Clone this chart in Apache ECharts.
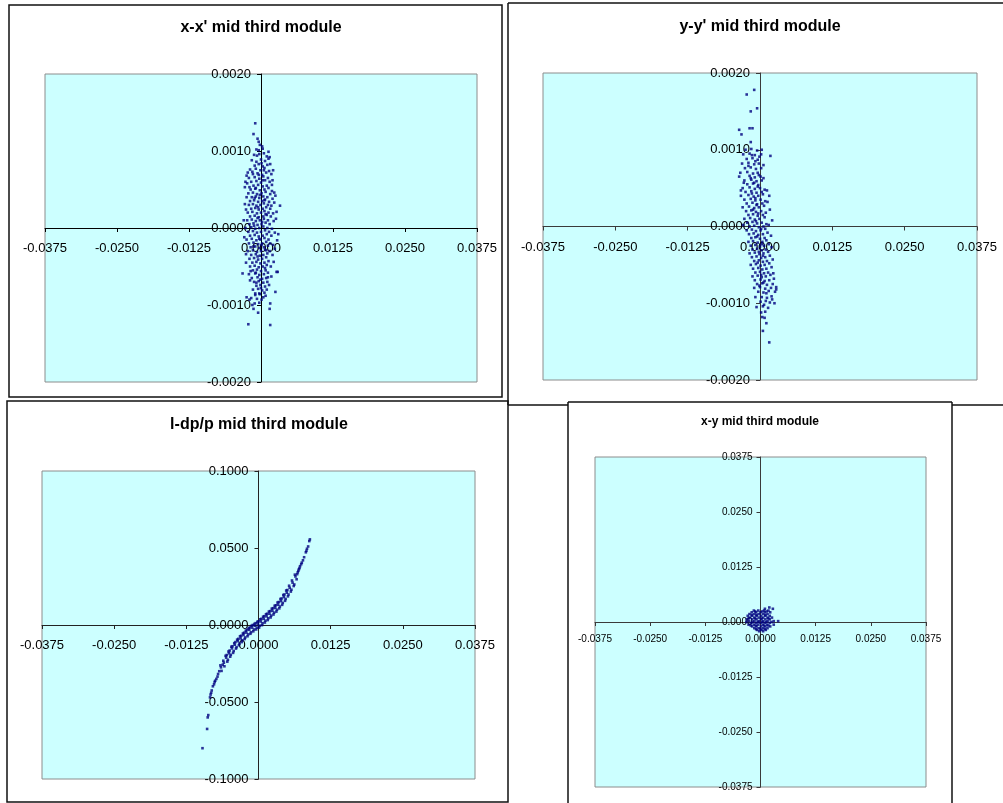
<!DOCTYPE html>
<html>
<head>
<meta charset="utf-8">
<script src="https://cdn.jsdelivr.net/npm/echarts@6/dist/echarts.min.js"></script>
<style>
html,body{margin:0;padding:0;background:#fff;}
#c{width:1003px;height:803px;}
</style>
</head>
<body>
<div id="c"></div>
<script>
// ---- titles ----
const titles = ["x-x' mid third module", "y-y' mid third module", "l-dp/p mid third module", "x-y mid third module"];

// ---- axis ranges / ticks ----
const posRange = [-0.0375, 0.0375, 0.0125];
const angRange = [-0.002, 0.002, 0.001];
const dppRange = [-0.1, 0.1, 0.05];

// ---- x-x' points [x, x'] ----
const xxPoints = [
[-0.0010,0.00136],[-0.0013,0.00122],[-0.0006,0.00116],[-0.0004,0.00112],[-0.0002,0.00108],[0.0002,0.00106],[0.0013,0.00099],[-0.0008,0.00102],
[0.0033,0.00029],[-0.0022,-0.00125],[0.0016,-0.00126],[0.0025,-0.00083],[0.0029,-0.00057],[0.0027,-0.00057],[-0.0032,-0.00059],[-0.0030,0.00010],
[-0.0015,-0.00100],[-0.0013,-0.00105],[-0.0005,-0.00110],[0.0016,-0.00098],[0.0015,-0.00105],[-0.0025,-0.00090],[-0.0020,-0.00093],[0.0004,-0.00090],
[-0.0003,-0.00085],[0.0014,-0.00074],[0.0025,0.00042],[0.0023,0.00046],[0.0020,0.00062],[0.0021,0.00075],[0.0016,0.00083],[0.0015,0.00092],
[-0.0027,0.00060],[-0.0028,0.00053],[-0.0025,0.00068],[-0.0023,0.00072],
[-0.0012,0.00095],[-0.0003,0.00096],[0.0005,0.00097],[0.0010,0.00093],
[-0.0016,0.00088],[-0.0008,0.00086],[0.0000,0.00089],[0.0007,0.00087],[0.0013,0.00090],
[-0.0011,0.00081],[-0.0004,0.00083],[0.0003,0.00080],[0.0011,0.00082],
[-0.0019,0.00076],[-0.0009,0.00077],[-0.0001,0.00075],[0.0006,0.00078],[0.0014,0.00074],
[-0.0014,0.00070],[-0.0006,0.00071],[0.0002,0.00069],[0.0009,0.00072],[0.0018,0.00070],
[-0.0021,0.00065],[-0.0011,0.00066],[-0.0003,0.00064],[0.0004,0.00067],[0.0012,0.00065],
[-0.0017,0.00060],[-0.0008,0.00061],[0.0000,0.00059],[0.0007,0.00062],[0.0015,0.00060],[-0.0024,0.00058],
[-0.0013,0.00055],[-0.0005,0.00056],[0.0003,0.00054],[0.0010,0.00055],[-0.0020,0.00053],
[-0.0018,0.00050],[-0.0010,0.00051],[-0.0002,0.00049],[0.0006,0.00050],[0.0013,0.00052],[0.0019,0.00048],
[-0.0022,0.00045],[-0.0014,0.00046],[-0.0007,0.00044],[0.0001,0.00045],[0.0008,0.00047],[0.0016,0.00044],
[-0.0016,0.00040],[-0.0009,0.00041],[-0.0003,0.00039],[0.0004,0.00041],[0.0011,0.00040],[0.0020,0.00038],[-0.0025,0.00040],
[-0.0019,0.00035],[-0.0012,0.00036],[-0.0005,0.00034],[0.0002,0.00035],[0.0007,0.00037],[0.0014,0.00034],
[-0.0021,0.00030],[-0.0014,0.00031],[-0.0008,0.00029],[-0.0001,0.00030],[0.0005,0.00032],[0.0012,0.00030],[0.0018,0.00029],
[-0.0017,0.00025],[-0.0010,0.00026],[-0.0004,0.00024],[0.0003,0.00025],[0.0009,0.00027],[0.0016,0.00025],[-0.0026,0.00024],
[-0.0023,0.00020],[-0.0015,0.00021],[-0.0007,0.00019],[0.0000,0.00020],[0.0006,0.00022],[0.0013,0.00020],[0.0021,0.00019],
[-0.0019,0.00015],[-0.0011,0.00016],[-0.0004,0.00014],[0.0004,0.00015],[0.0010,0.00017],[0.0017,0.00015],
[-0.0024,0.00010],[-0.0016,0.00011],[-0.0009,0.00009],[-0.0002,0.00010],[0.0005,0.00012],[0.0012,0.00010],[0.0022,0.00009],
[-0.0020,0.00005],[-0.0013,0.00006],[-0.0006,0.00004],[0.0001,0.00005],[0.0008,0.00007],[0.0015,0.00005],
[-0.0027,0.00000],[-0.0017,0.00001],[-0.0010,-0.00001],[-0.0003,0.00000],[0.0004,0.00002],[0.0011,0.00000],[0.0019,-0.00001],
[-0.0022,-0.00005],[-0.0014,-0.00004],[-0.0007,-0.00006],[0.0000,-0.00005],[0.0007,-0.00003],[0.0014,-0.00005],[0.0024,-0.00006],
[-0.0019,-0.00010],[-0.0011,-0.00009],[-0.0004,-0.00011],[0.0003,-0.00010],[0.0010,-0.00008],[0.0018,-0.00010],
[-0.0025,-0.00015],[-0.0016,-0.00014],[-0.0008,-0.00016],[-0.0001,-0.00015],[0.0006,-0.00013],[0.0013,-0.00015],
[-0.0021,-0.00020],[-0.0013,-0.00019],[-0.0005,-0.00021],[0.0002,-0.00020],[0.0009,-0.00018],[0.0016,-0.00020],[0.0021,-0.00022],
[-0.0018,-0.00025],[-0.0010,-0.00024],[-0.0003,-0.00026],[0.0005,-0.00025],[0.0012,-0.00023],
[-0.0023,-0.00030],[-0.0014,-0.00029],[-0.0007,-0.00031],[0.0000,-0.00030],[0.0007,-0.00028],[0.0015,-0.00030],
[-0.0017,-0.00035],[-0.0009,-0.00034],[-0.0002,-0.00036],[0.0004,-0.00035],[0.0011,-0.00033],[0.0020,-0.00035],
[-0.0020,-0.00040],[-0.0012,-0.00039],[-0.0005,-0.00041],[0.0002,-0.00040],[0.0009,-0.00038],
[-0.0015,-0.00045],[-0.0008,-0.00044],[-0.0001,-0.00046],[0.0006,-0.00045],[0.0013,-0.00043],[-0.0026,-0.00045],
[-0.0019,-0.00050],[-0.0011,-0.00049],[-0.0004,-0.00051],[0.0003,-0.00050],[0.0010,-0.00048],[0.0017,-0.00050],
[-0.0014,-0.00055],[-0.0007,-0.00054],[0.0000,-0.00056],[0.0008,-0.00055],
[-0.0021,-0.00060],[-0.0010,-0.00059],[-0.0003,-0.00061],[0.0005,-0.00060],[0.0012,-0.00058],
[-0.0016,-0.00065],[-0.0006,-0.00064],[0.0002,-0.00066],[0.0009,-0.00065],
[-0.0012,-0.00070],[-0.0004,-0.00069],[0.0004,-0.00071],[0.0011,-0.00070],[-0.0019,-0.00068],
[-0.0008,-0.00075],[-0.0001,-0.00074],[0.0007,-0.00076],
[-0.0014,-0.00080],[-0.0005,-0.00079],[0.0002,-0.00081],[0.0010,-0.00080],
[-0.0010,-0.00085],[-0.0002,-0.00086],[0.0006,-0.00084],
[-0.0007,-0.00092],[0.0001,-0.00093],[-0.0017,-0.00091],
[-0.0011,-0.00098],[-0.0003,-0.00097],
[0.0026,0.00012],[0.0030,-0.00008],[0.0027,0.00021],[0.0024,-0.00027],[0.0028,-0.00016],[0.0023,0.00033],[-0.0029,-0.00012],[-0.0026,-0.00034],
[-0.0028,0.00031],[0.0019,0.00056],[0.0022,-0.00044],[0.0018,-0.00063],[-0.0005,0.00027],[-0.0012,0.00003],[0.0001,-0.00022],[-0.0006,-0.00037],
[0.0008,0.00018],[-0.0002,0.00043],[-0.0009,0.00052],[0.0003,0.00062],[-0.0015,0.00073],[0.0001,0.00084],[-0.0007,0.00094],[-0.0001,-0.00067],
[-0.0009,-0.00058],[0.0007,-0.00052],[-0.0003,-0.00014],[0.0009,-0.00029],[-0.0013,-0.00024],[0.0002,0.00008],[-0.0006,0.00013],[0.0006,0.00036],
[-0.0011,0.00039],[-0.0004,0.00069],[0.0005,0.00075],[-0.0018,-0.00056],[0.0012,-0.00064],[-0.0008,-0.00071],[0.0000,-0.00078],[-0.0004,0.00101],
[0.0003,0.00103],[-0.0010,-0.00087],[0.0008,-0.00088]
];

// ---- y-y' points [y, y'] ----
const yyPoints = [
[-0.0010,0.00178],[-0.0023,0.00172],[-0.0005,0.00154],[-0.0016,0.00150],[-0.0018,0.00128],[-0.0013,0.00128],[-0.0036,0.00126],[-0.0032,0.00120],
[-0.0016,0.00110],[0.0016,-0.00151],[0.0005,-0.00136],[0.0011,-0.00126],[0.0028,-0.00079],[-0.0008,-0.00092],[0.0025,-0.00100],
[-0.0025,0.00100],[-0.0015,0.00101],[-0.0005,0.00099],[0.0003,0.00100],
[-0.0029,0.00094],[-0.0018,0.00095],[-0.0009,0.00093],[0.0002,0.00094],[0.0018,0.00092],
[-0.0023,0.00088],[-0.0013,0.00089],[-0.0004,0.00087],
[-0.0031,0.00082],[-0.0020,0.00083],[-0.0010,0.00081],[-0.0002,0.00082],[0.0006,0.00080],
[-0.0026,0.00076],[-0.0016,0.00077],[-0.0007,0.00075],[0.0002,0.00076],
[-0.0034,0.00070],[-0.0022,0.00071],[-0.0012,0.00069],[-0.0004,0.00070],
[-0.0036,0.00065],[-0.0018,0.00066],[-0.0009,0.00064],[0.0001,0.00065],[0.0006,0.00063],
[-0.0027,0.00060],[-0.0015,0.00061],[-0.0006,0.00059],[0.0003,0.00060],
[-0.0022,0.00055],[-0.0012,0.00056],[-0.0003,0.00054],
[-0.0030,0.00050],[-0.0018,0.00051],[-0.0009,0.00049],[0.0000,0.00050],[0.0008,0.00048],
[-0.0025,0.00045],[-0.0015,0.00046],[-0.0006,0.00044],[0.0003,0.00045],
[-0.0033,0.00040],[-0.0020,0.00041],[-0.0011,0.00039],[-0.0003,0.00040],[0.0005,0.00042],
[-0.0027,0.00035],[-0.0016,0.00036],[-0.0008,0.00034],[0.0001,0.00035],[0.0009,0.00033],
[-0.0023,0.00030],[-0.0013,0.00031],[-0.0005,0.00029],[0.0004,0.00030],
[-0.0030,0.00025],[-0.0019,0.00026],[-0.0010,0.00024],[-0.0002,0.00025],[0.0007,0.00027],
[-0.0024,0.00020],[-0.0015,0.00021],[-0.0007,0.00019],[0.0002,0.00020],[0.0010,0.00018],
[-0.0020,0.00015],[-0.0012,0.00016],[-0.0004,0.00014],[0.0005,0.00015],
[-0.0027,0.00010],[-0.0017,0.00011],[-0.0009,0.00009],[-0.0001,0.00010],[0.0008,0.00012],
[-0.0022,0.00005],[-0.0013,0.00006],[-0.0005,0.00004],[0.0003,0.00005],[0.0011,0.00003],
[-0.0018,0.00000],[-0.0010,0.00001],[-0.0002,-0.00001],[0.0006,0.00000],[-0.0029,0.00002],
[-0.0023,-0.00005],[-0.0014,-0.00004],[-0.0007,-0.00006],[0.0001,-0.00005],[0.0009,-0.00003],
[-0.0019,-0.00010],[-0.0011,-0.00009],[-0.0003,-0.00011],[0.0005,-0.00010],[0.0013,-0.00008],
[-0.0015,-0.00015],[-0.0008,-0.00014],[0.0000,-0.00016],[0.0008,-0.00015],
[-0.0020,-0.00020],[-0.0012,-0.00019],[-0.0004,-0.00021],[0.0004,-0.00020],[0.0011,-0.00018],
[-0.0016,-0.00025],[-0.0008,-0.00024],[0.0000,-0.00026],[0.0007,-0.00025],[0.0015,-0.00023],
[-0.0013,-0.00030],[-0.0005,-0.00029],[0.0003,-0.00031],[0.0010,-0.00030],
[-0.0018,-0.00035],[-0.0009,-0.00034],[-0.0001,-0.00036],[0.0006,-0.00035],[0.0014,-0.00033],
[-0.0014,-0.00040],[-0.0006,-0.00039],[0.0002,-0.00041],[0.0009,-0.00040],[0.0017,-0.00038],
[-0.0010,-0.00045],[-0.0002,-0.00044],[0.0005,-0.00046],[0.0012,-0.00045],
[-0.0016,-0.00050],[-0.0007,-0.00049],[0.0001,-0.00051],[0.0008,-0.00050],[0.0016,-0.00048],
[-0.0012,-0.00055],[-0.0003,-0.00054],[0.0004,-0.00056],[0.0011,-0.00055],[0.0020,-0.00053],
[-0.0008,-0.00060],[0.0000,-0.00059],[0.0007,-0.00061],[0.0014,-0.00060],
[-0.0013,-0.00065],[-0.0004,-0.00064],[0.0003,-0.00066],[0.0010,-0.00065],[0.0018,-0.00063],
[-0.0009,-0.00070],[0.0001,-0.00069],[0.0008,-0.00071],[0.0016,-0.00070],
[-0.0005,-0.00075],[0.0004,-0.00074],[0.0012,-0.00076],[0.0022,-0.00075],
[-0.0010,-0.00080],[0.0000,-0.00079],[0.0009,-0.00081],[0.0019,-0.00080],[0.0028,-0.00082],
[-0.0003,-0.00085],[0.0006,-0.00086],[0.0015,-0.00084],
[0.0003,-0.00092],[0.0012,-0.00093],[0.0020,-0.00091],
[0.0001,-0.00098],[0.0010,-0.00097],[0.0017,-0.00099],
[-0.0006,-0.00105],[0.0005,-0.00104],[0.0014,-0.00106],
[0.0002,-0.00112],[0.0009,-0.00111],
[0.0004,-0.00118],[0.0008,-0.00119],
[0.0015,0.00002],[0.0019,-0.00012],[0.0021,0.00008],[0.0017,0.00022],[0.0013,0.00032],[0.0016,0.00040],[0.0012,0.00047],[0.0020,-0.00027],
[0.0022,-0.00043],[0.0023,-0.00061],[0.0024,-0.00068],[0.0026,-0.00085],[0.0021,-0.00095],
[-0.0006,0.00028],[-0.0012,0.00022],[-0.0003,0.00017],[-0.0008,0.00037],[-0.0014,0.00043],[-0.0004,0.00052],[-0.0010,0.00057],[-0.0016,0.00063],
[-0.0002,0.00067],[-0.0007,0.00007],[0.0002,-0.00003],[-0.0005,-0.00013],[0.0003,-0.00023],[-0.0002,-0.00033],[0.0005,-0.00038],[-0.0004,-0.00047],
[0.0002,-0.00063],[0.0006,-0.00073],[-0.0001,-0.00077],[0.0011,-0.00087],[0.0007,-0.00102],[-0.0020,0.00079],[-0.0008,0.00085],[-0.0028,0.00057],
[-0.0033,0.00047],[-0.0014,0.00093],[-0.0001,0.00091]
];

// ---- l-dp/p points [l, dp/p] ----
const ldpPoints = [
[-0.0097,-0.0800],[-0.0089,-0.0675],[-0.0088,-0.0600],[-0.0087,-0.0585],[-0.0084,-0.0470],[-0.0083,-0.0452],[-0.0082,-0.0440],[-0.0081,-0.0425],
[-0.0079,-0.0398],[-0.0077,-0.0385],[-0.0076,-0.0370],[-0.0075,-0.0362],[-0.0073,-0.0350],[-0.0071,-0.0335],[-0.0070,-0.0318],[-0.0068,-0.0300],
[-0.0066,-0.0262],[-0.0064,-0.0298],[-0.0065,-0.0275],
[-0.0061,-0.0232],[-0.0059,-0.0268],[-0.0060,-0.0245],[-0.0062,-0.0258],
[-0.0057,-0.0200],[-0.0054,-0.0238],[-0.0056,-0.0212],[-0.0053,-0.0226],[-0.0055,-0.0195],
[-0.0052,-0.0172],[-0.0049,-0.0206],[-0.0051,-0.0184],[-0.0048,-0.0194],[-0.0050,-0.0166],
[-0.0047,-0.0141],[-0.0044,-0.0181],[-0.0046,-0.0152],[-0.0043,-0.0169],[-0.0045,-0.0138],
[-0.0042,-0.0118],[-0.0039,-0.0153],[-0.0041,-0.0128],[-0.0038,-0.0144],[-0.0040,-0.0111],
[-0.0037,-0.0095],[-0.0034,-0.0131],[-0.0036,-0.0105],[-0.0033,-0.0121],[-0.0035,-0.0090],
[-0.0032,-0.0073],[-0.0029,-0.0111],[-0.0031,-0.0087],[-0.0028,-0.0099],[-0.0030,-0.0070],
[-0.0027,-0.0055],[-0.0024,-0.0091],[-0.0026,-0.0065],[-0.0023,-0.0081],[-0.0025,-0.0050],
[-0.0022,-0.0037],[-0.0019,-0.0073],[-0.0021,-0.0049],[-0.0018,-0.0061],[-0.0020,-0.0030],
[-0.0017,-0.0021],[-0.0014,-0.0057],[-0.0016,-0.0031],[-0.0013,-0.0047],[-0.0015,-0.0016],
[-0.0012,-0.0005],[-0.0009,-0.0041],[-0.0011,-0.0017],[-0.0008,-0.0029],[-0.0010,0.0000],
[-0.0007,0.0007],[-0.0004,-0.0029],[-0.0006,-0.0005],[-0.0003,-0.0017],[-0.0005,0.0012],
[-0.0002,0.0021],[0.0001,-0.0017],[-0.0001,0.0007],[0.0002,-0.0005],[0.0000,0.0024],
[0.0003,0.0037],[0.0006,-0.0001],[0.0004,0.0023],[0.0007,0.0011],[0.0005,0.0040],
[0.0008,0.0054],[0.0011,0.0016],[0.0009,0.0040],[0.0012,0.0028],[0.0010,0.0057],
[0.0013,0.0070],[0.0016,0.0032],[0.0014,0.0056],[0.0017,0.0044],[0.0015,0.0073],
[0.0018,0.0087],[0.0021,0.0049],[0.0019,0.0073],[0.0022,0.0061],[0.0020,0.0090],
[0.0023,0.0106],[0.0026,0.0068],[0.0024,0.0092],[0.0027,0.0080],[0.0025,0.0109],
[0.0028,0.0125],[0.0031,0.0087],[0.0029,0.0111],[0.0032,0.0099],[0.0030,0.0128],
[0.0033,0.0146],[0.0036,0.0108],[0.0034,0.0132],[0.0037,0.0120],[0.0035,0.0149],
[0.0038,0.0169],[0.0041,0.0131],[0.0039,0.0155],[0.0042,0.0143],[0.0040,0.0172],
[0.0043,0.0195],[0.0046,0.0157],[0.0044,0.0181],[0.0047,0.0169],[0.0045,0.0198],
[0.0048,0.0224],[0.0051,0.0186],[0.0049,0.0210],[0.0052,0.0198],[0.0050,0.0227],
[0.0053,0.0255],[0.0056,0.0217],[0.0054,0.0241],[0.0057,0.0229],
[0.0058,0.0289],[0.0061,0.0253],[0.0059,0.0275],[0.0062,0.0263],
[0.0063,0.0327],[0.0066,0.0297],[0.0064,0.0315],
[0.0067,0.0330],[0.0068,0.0342],[0.0069,0.0352],[0.0070,0.0362],[0.0071,0.0370],[0.0072,0.0382],[0.0074,0.0395],[0.0075,0.0405],
[0.0077,0.0420],[0.0079,0.0440],[0.0082,0.0472],[0.0083,0.0482],[0.0084,0.0495],[0.0086,0.0510],[0.0088,0.0545],[0.0089,0.0556]
];

// ---- x-y points [x, y] ----
const xyPoints = [
[0.0020,0.0033],[0.0028,0.0030],[0.0010,0.0030],
[-0.0015,0.0026],[-0.0005,0.0026],[0.0008,0.0026],[0.0018,0.0026],
[-0.0012,0.0024],[0.0004,0.0024],[0.0014,0.0024],
[-0.0020,0.0022],[-0.0010,0.0022],[0.0000,0.0022],[0.0010,0.0022],[0.0022,0.0022],
[-0.0025,0.0018],[-0.0014,0.0018],[-0.0004,0.0018],[0.0006,0.0018],[0.0016,0.0018],
[-0.0020,0.0016],[-0.0009,0.0016],[0.0011,0.0016],
[-0.0029,0.0014],[-0.0019,0.0014],[-0.0009,0.0014],[0.0001,0.0014],[0.0011,0.0014],[0.0021,0.0014],
[-0.0024,0.0010],[-0.0014,0.0010],[-0.0004,0.0010],[0.0006,0.0010],[0.0016,0.0010],[0.0026,0.0010],
[-0.0027,0.0008],[-0.0012,0.0008],[0.0003,0.0008],[0.0018,0.0008],
[-0.0031,0.0006],[-0.0019,0.0006],[-0.0009,0.0006],[0.0001,0.0006],[0.0011,0.0006],[0.0021,0.0006],
[-0.0026,0.0002],[-0.0014,0.0002],[-0.0004,0.0002],[0.0006,0.0002],[0.0016,0.0002],[0.0030,0.0002],[0.0040,0.0002],
[-0.0032,0.0000],[-0.0018,0.0000],[-0.0006,0.0000],[0.0004,0.0000],[0.0013,0.0000],[0.0025,0.0000],
[-0.0021,-0.0002],[-0.0010,-0.0002],[0.0000,-0.0002],[0.0010,-0.0002],[0.0021,-0.0002],
[-0.0027,-0.0006],[-0.0015,-0.0006],[-0.0005,-0.0006],[0.0005,-0.0006],[0.0015,-0.0006],[0.0030,-0.0006],
[-0.0022,-0.0008],[-0.0011,-0.0008],[0.0008,-0.0008],[0.0018,-0.0008],
[-0.0019,-0.0010],[-0.0009,-0.0010],[0.0001,-0.0010],[0.0011,-0.0010],[0.0022,-0.0010],
[-0.0014,-0.0014],[-0.0004,-0.0014],[0.0006,-0.0014],[0.0016,-0.0014],
[-0.0010,-0.0016],[0.0000,-0.0016],[0.0010,-0.0016],
[-0.0008,-0.0018],[0.0002,-0.0018],[0.0012,-0.0018],
[-0.0003,-0.0021],[0.0006,-0.0021]
];

const FONT = '"Liberation Sans", Arial, sans-serif';
const fmt = v => (Math.abs(v) < 1e-10 ? 0 : v).toFixed(4);

const grids = [
  { left: 45, top: 74, width: 432, height: 308 },
  { left: 543, top: 73, width: 434, height: 307 },
  { left: 42, top: 471, width: 433, height: 308 },
  { left: 595, top: 457, width: 331, height: 330 }
];

// crossing axes placed at the centre of each plot (value 0), via offset
function axis(gi, r, fs, lineColor, margin, dim) {
  const g = grids[gi];
  const off = dim === 'x' ? -g.height / 2 : -g.width / 2;
  return {
    type: 'value', gridIndex: gi, min: r[0], max: r[1], interval: r[2],
    position: dim === 'x' ? 'bottom' : 'left', offset: off,
    axisLine: { show: true, onZero: false, lineStyle: { color: lineColor, width: 1 } },
    axisTick: { show: true, inside: false, length: 4, lineStyle: { color: lineColor } },
    axisLabel: { show: true, fontSize: fs, fontFamily: FONT, color: '#000', margin: margin,
                 formatter: fmt, showMinLabel: true, showMaxLabel: true },
    splitLine: { show: false }
  };
}

const gridOpts = grids.map(g => Object.assign({}, g, {
  show: true, backgroundColor: '#CCFFFF', borderColor: '#8C8C8C', borderWidth: 1,
  containLabel: false, outerBoundsMode: 'none'
}));

const xAxes = [
  axis(0, posRange, 13, '#000', 14, 'x'),
  axis(1, posRange, 13, '#3a3a3a', 14, 'x'),
  axis(2, posRange, 13, '#222', 14, 'x'),
  axis(3, posRange, 10, '#3a3a3a', 12, 'x')
];
const yAxes = [
  axis(0, angRange, 13, '#000', 10, 'y'),
  axis(1, angRange, 13, '#3a3a3a', 10, 'y'),
  axis(2, dppRange, 13, '#222', 10, 'y'),
  axis(3, posRange, 10, '#3a3a3a', 8, 'y')
];

const sets = [xxPoints, yyPoints, ldpPoints, xyPoints];
const series = sets.map((d, i) => ({
  type: 'scatter', xAxisIndex: i, yAxisIndex: i, data: d,
  symbol: 'rect', symbolSize: 2.6, itemStyle: { color: '#000080' },
  silent: true, z: 3
}));

function line(x1, y1, x2, y2) {
  return { type: 'line', shape: { x1, y1, x2, y2 }, style: { stroke: '#111', lineWidth: 1.5 }, silent: true, z: 10 };
}
function text(x, y, t, size) {
  return { type: 'text', x, y, z: 10, silent: true,
    style: { text: t, fill: '#000', font: 'bold ' + size + 'px ' + FONT, align: 'center', verticalAlign: 'middle' } };
}

const graphic = [
  { type: 'rect', shape: { x: 9, y: 5, width: 493, height: 392 }, style: { fill: null, stroke: '#111', lineWidth: 1.5 }, silent: true, z: 10 },
  line(508, 3, 1003, 3), line(508, 3, 508, 405), line(508, 405, 568, 405), line(952, 405, 1003, 405),
  { type: 'rect', shape: { x: 7, y: 401, width: 501, height: 401 }, style: { fill: null, stroke: '#111', lineWidth: 1.5 }, silent: true, z: 10 },
  line(568, 402, 952, 402), line(568, 402, 568, 803), line(952, 402, 952, 803),
  text(261, 28, titles[0], 16),
  text(760, 27, titles[1], 16),
  text(259, 425, titles[2], 16),
  text(760, 422, titles[3], 12)
];

const chart = echarts.init(document.getElementById('c'), null, { renderer: 'canvas' });
chart.setOption({
  animation: false,
  backgroundColor: '#fff',
  grid: gridOpts,
  xAxis: xAxes,
  yAxis: yAxes,
  series: series,
  graphic: graphic
});
</script>
</body>
</html>
